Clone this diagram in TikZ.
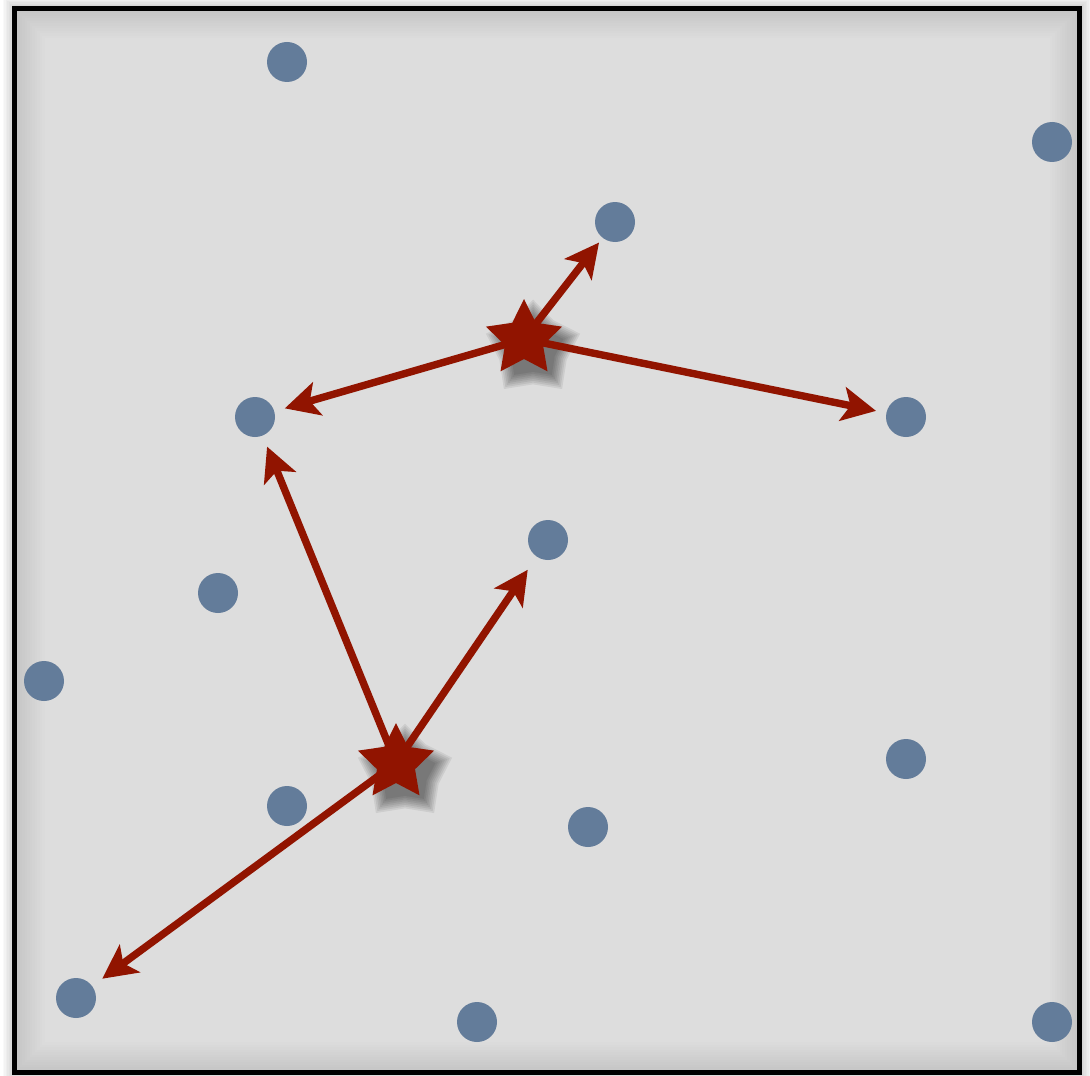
\documentclass[tikz,border=0pt]{standalone}
\usetikzlibrary{shapes.geometric,arrows.meta}
\definecolor{dotblue}{RGB}{99,124,154}
\definecolor{arrred}{RGB}{145,20,0}
\definecolor{panel}{RGB}{221,221,221}
\tikzset{
  dot/.style={circle, fill=dotblue, minimum size=20pt, inner sep=0pt},
  starnode/.style={star, star points=5, star point ratio=2, fill=arrred, minimum size=40pt, inner sep=0pt},
  starshadow/.style={star, star points=5, star point ratio=1.4, fill=black, opacity=0.07, inner sep=0pt},
  arr/.style={draw=arrred, line width=3.7pt, -{Stealth[length=17pt,width=17pt,inset=4pt]}}
}
\begin{document}
\begin{tikzpicture}[x=0.5pt,y=-0.5pt]
\useasboundingbox (0,0) rectangle (1090,1075);
\fill[white] (0,0) rectangle (1090,1075);
% outer shadow
\foreach \i in {1,...,8} \draw[black, opacity=0.025, line width=\i*1.5pt] (14.5,8.5) rectangle (1079.5,1072);
% panel
\fill[panel] (14.5,8.5) rectangle (1079.5,1072);
\begin{scope}
\clip (14.5,8.5) rectangle (1079.5,1072);
\foreach \i in {1,...,12} \draw[black, opacity=0.009, line width=\i*2.5pt] (14.5,8.5) rectangle (1079.5,1072);
\end{scope}
\draw[black, line width=2.5pt] (14.5,8.5) rectangle (1079.5,1072);
% dots
\node[dot] (d1) at (287,62) {};
\node[dot] (d2) at (1052,142) {};
\node[dot] (d3) at (615,222) {};
\node[dot] (d4) at (255,417) {};
\node[dot] (d5) at (906,417) {};
\node[dot] (d6) at (548,540) {};
\node[dot] (d7) at (218,593) {};
\node[dot] (d8) at (44,681) {};
\node[dot] (d9) at (906,759) {};
\node[dot] (d10) at (287,806) {};
\node[dot] (d11) at (588,827) {};
\node[dot] (d12) at (76,998) {};
\node[dot] (d13) at (477,1022) {};
\node[dot] (d14) at (1052,1022) {};
% star positions and soft shadows
\coordinate (c1) at (524,339);
\coordinate (c2) at (396,763);
\foreach \k in {0,...,7} {
  \node[starshadow, minimum size=(32+\k*2.5)*1pt] (sha\k) at (533,349) {};
  \node[starshadow, minimum size=(32+\k*2.5)*1pt] (shb\k) at (405,773) {};
}
% arrows
\draw[arr, shorten >=13pt] (c1) -- (d3.center);
\draw[arr, shorten >=15.5pt] (c1) -- (d4.center);
\draw[arr, shorten >=15.3pt] (c1) -- (d5.center);
\draw[arr, shorten >=16pt] (c2) -- (d4.center);
\draw[arr, shorten >=18pt] (c2) -- (d6.center);
\draw[arr, shorten >=16.3pt] (c2) -- (d12.center);
% stars
\node[starnode] (s1) at (c1) {};
\node[starnode] (s2) at (c2) {};
\end{tikzpicture}
\end{document}
